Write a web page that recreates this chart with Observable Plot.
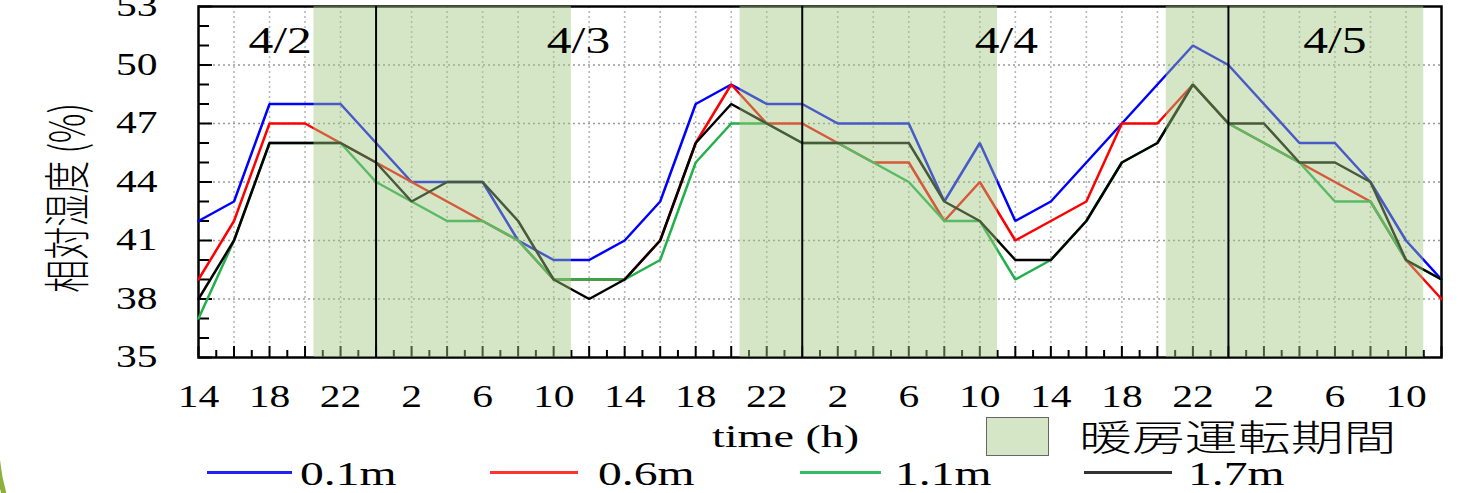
<!DOCTYPE html>
<html>
<head>
<meta charset="utf-8">
<script src="https://cdn.jsdelivr.net/npm/d3@7"></script>
<script src="https://cdn.jsdelivr.net/npm/@observablehq/plot@0.6"></script>
<style>
  html, body { margin: 0; padding: 0; background: #fff; }
  #wrap { position: relative; width: 1469px; height: 493px; overflow: hidden; background: #fff; }
  #wrap svg { position: absolute; left: 0; top: 0; }
  .serif { font-family: "Liberation Serif", "Times New Roman", serif; color: #000; }
  .abs { position: absolute; white-space: nowrap; line-height: 1; }
</style>
</head>
<body>
<div id="wrap"></div>
<script>
// ---- data (hours counted from 4/2 0:00; readings every 2 hours) ----
const hours = [14,16,18,20,22,24,26,28,30,32,34,36,38,40,42,44,46,48,50,52,54,56,58,60,62,64,66,68,70,72,74,76,78,80,82,84];
const rh01 = [42,43,48,48,48,46,44,44,44,41,40,40,41,43,48,49,48,48,47,47,47,43,46,42,43,45,47,49,51,50,48,46,46,44,41,39];
const rh06 = [39,42,47,47,46,45,44,43,42,41,39,39,39,41,46,49,47,47,46,45,45,42,44,41,42,43,47,47,49,47,46,45,44,43,40,38];
const rh11 = [37,41,46,46,46,44,43,42,42,41,39,39,39,40,45,47,47,46,46,45,44,42,42,39,40,42,45,46,49,47,46,45,43,43,40,39];
const rh17 = [38,41,46,46,46,45,43,44,44,42,39,38,39,41,46,48,47,46,46,46,46,43,42,40,40,42,45,46,49,47,47,45,45,44,40,39];
const seriesNames = ["0.1m", "0.6m", "1.1m", "1.7m"];
const seriesColors = ["#0000ff", "#ff0000", "#22b04b", "#000000"];
const heatingStart = [20.5, 44.5, 68.5];
const heatingEnd = [35, 59, 83];
const midnights = [24, 48, 72];
const dayNames = ["4/2", "4/3", "4/4", "4/5"];
const dayLabelHours = [18.6, 35.4, 59.5, 78.0];
const xLabelTicks = [14,18,22,26,30,34,38,42,46,50,54,58,62,66,70,74,78,82];
const yTicks = [35,38,41,44,47,50,53];
const yGrid = [38,41,44,47,50];
const xGrid = [16,18,20,22,26,28,30,32,34,36,38,40,42,44,46,50,52,54,56,58,60,62,64,66,68,70,74,76,78,80,82];
const xMajorTicks = d3.range(14, 85, 2);
const xMinorTicks = d3.range(15, 84, 2);
const yMinorTicks = d3.range(35, 54, 1).filter(v => (v - 35) % 3 !== 0);
const xTitle = "time (h)";
const yTitle = "相対湿度 (%)";
const heatingTitle = "暖房運転期間";

// ---- tables built from the arrays ----
const allSeries = [rh01, rh06, rh11, rh17];
const rows = seriesNames.flatMap((s, k) => hours.map((t, i) => ({t, rh: allSeries[k][i], series: s})));
const heating = heatingStart.map((s, i) => ({start: s, end: heatingEnd[i]}));
const days = dayNames.map((d, i) => ({label: d, t: dayLabelHours[i]}));

const W = 1469, H = 493, mT = 6, mL = 198, mR = 28, mB = 136;
const frameW = W - mL - mR, frameH = H - mT - mB;
const shadeColor = "rgb(160,200,129)";

const chart = Plot.plot({
  width: W, height: H,
  marginTop: mT, marginLeft: mL, marginRight: mR, marginBottom: mB,
  x: {domain: [14, 84], label: null},
  y: {domain: [35, 53], label: null},
  color: {domain: seriesNames, range: seriesColors},
  style: {fontFamily: "'Liberation Serif', serif", fontSize: "31px", color: "#000", background: "transparent", overflow: "visible"},
  marks: [
    Plot.ruleX(xGrid, {stroke: "#b8b8b8", strokeDasharray: "2,3", strokeWidth: 1.6}),
    Plot.ruleY(yGrid, {stroke: "#9a9a9a", strokeDasharray: "2,3", strokeWidth: 1.6}),
    Plot.ruleX(xMinorTicks, {insetTop: frameH - 7, stroke: "#000", strokeWidth: 2}),
    Plot.ruleX(xMajorTicks, {insetTop: frameH - 11, stroke: "#000", strokeWidth: 2}),
    Plot.ruleY(yMinorTicks, {insetRight: frameW - 11, stroke: "#000", strokeWidth: 2}),
    Plot.ruleY(yTicks, {insetRight: frameW - 14, stroke: "#000", strokeWidth: 2}),
    Plot.frame({stroke: "#000", strokeWidth: 2.5}),
    Plot.line(rows, {x: "t", y: "rh", z: "series", stroke: "series", strokeWidth: 2.5, strokeLinejoin: "miter"}),
    Plot.rect(heating, {x1: "start", x2: "end", fill: shadeColor, fillOpacity: 0.45}),
    Plot.ruleX(midnights, {stroke: "#000", strokeWidth: 2}),
    Plot.text(days, {x: "t", text: "label", frameAnchor: "top", lineAnchor: "middle", dy: 35, fontSize: 37, ariaLabel: "day-labels"}),
    Plot.axisX({ticks: xLabelTicks, tickFormat: d => String(d % 24), tickSize: 0, tickPadding: 27, fontSize: 31, label: null}),
    Plot.axisY({ticks: yTicks, tickSize: 0, tickPadding: 41, fontSize: 31, label: null})
  ]
});

// widen glyphs horizontally (reference text is stretched); keep em-based y offsets
chart.querySelectorAll("text").forEach(el => {
  const S = el.closest("[aria-label='day-labels']") ? 1.44 : 1.34;
  const xa = el.getAttribute("x");
  let x = 0;
  if (xa != null && /^-?[\d.]+$/.test(xa.trim())) { x = +xa; el.removeAttribute("x"); }
  const ya = el.getAttribute("y");
  let y = 0;
  if (ya != null && /^-?[\d.]+$/.test(ya.trim())) { y = +ya; el.removeAttribute("y"); }
  const t = el.getAttribute("transform") || "";
  el.setAttribute("transform", `${t} translate(${x},${y}) scale(${S},1)`);
});

const wrap = document.getElementById("wrap");
wrap.appendChild(chart);

function addDiv(html, css, cls) {
  const d = document.createElement("div");
  d.className = "abs " + (cls || "");
  d.style.cssText += css;
  d.innerHTML = html;
  wrap.appendChild(d);
  return d;
}

// y-axis title
addDiv(yTitle, "left:65px; top:198px; font-family:'Noto Sans CJK JP','Noto Sans',sans-serif; font-weight:300; font-size:33px; transform: translate(-50%,-50%) scaleX(1.4) rotate(-90deg); transform-origin:center;");
// x-axis title
addDiv(xTitle, "left:712px; top:420px; font-size:32px; transform: scaleX(1.44); transform-origin:left top;", "serif");
// heating legend
addDiv("", `left:986px; top:417px; width:61px; height:37px; background: rgb(212,230,198); border:1.5px solid #666;`);
addDiv(heatingTitle, "left:1079px; top:417px; font-family:'Noto Sans CJK JP',sans-serif; font-weight:300; font-size:36px; transform: scaleX(1.47); transform-origin:left top;");
// series legend
const legLine = [[207, 292], [490, 578], [800, 881], [1084, 1172]];
const legText = [300, 598, 895, 1188];
const legColors = ["#2222ee", "#ff3333", "#33bb66", "#333333"];
seriesNames.forEach((s, i) => {
  addDiv("", `left:${legLine[i][0]}px; top:471px; width:${legLine[i][1] - legLine[i][0]}px; height:2.5px; background:${legColors[i]};`);
  addDiv(s, `left:${legText[i]}px; top:457px; font-size:34px; transform: scaleX(1.4); transform-origin:left top;`, "serif");
});
// decorative slide border arc at left
addDiv("", "left:-6px; top:-230px; width:2000px; height:870px; border:5px solid #8cb03c; border-radius:200px; box-sizing:border-box; pointer-events:none;");
</script>
</body>
</html>
